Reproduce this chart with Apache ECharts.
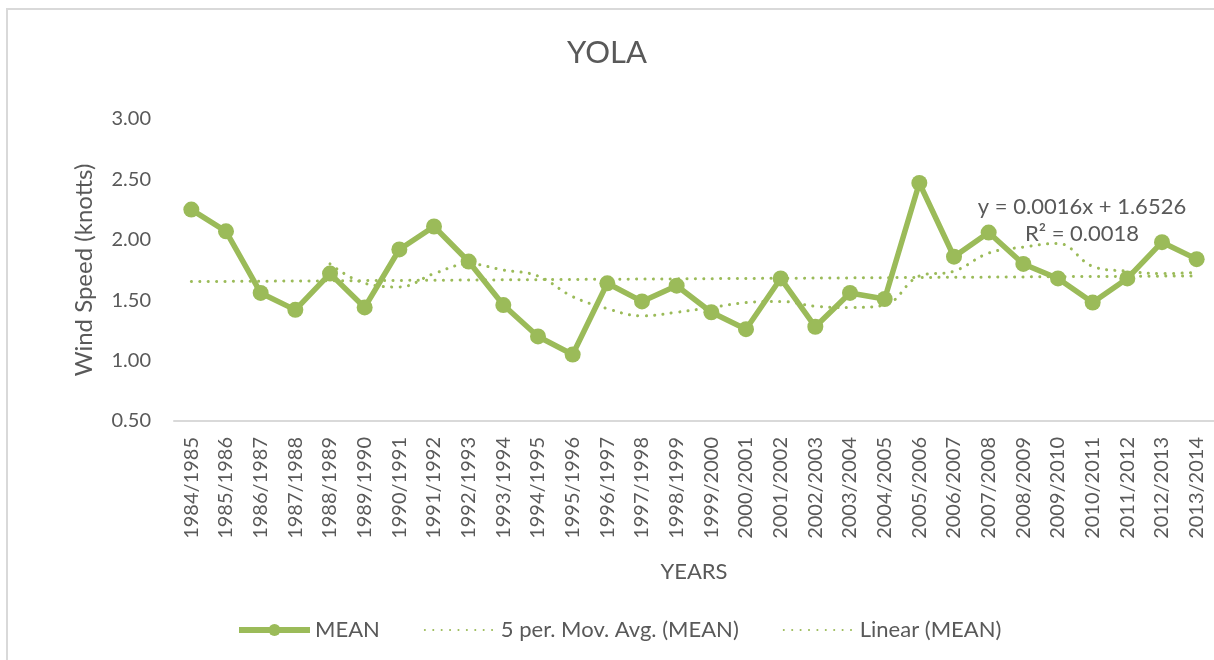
<!DOCTYPE html>
<html>
<head>
<meta charset="utf-8">
<script src="https://cdn.jsdelivr.net/npm/echarts@6/dist/echarts.min.js"></script>
<style>
html,body{margin:0;padding:0;background:#fff;}
#chart{width:1214px;height:660px;}
</style>
</head>
<body>
<div id="chart"></div>
<script>
var categories = ['1984/1985','1985/1986','1986/1987','1987/1988','1988/1989','1989/1990','1990/1991','1991/1992','1992/1993','1993/1994','1994/1995','1995/1996','1996/1997','1997/1998','1998/1999','1999/2000','2000/2001','2001/2002','2002/2003','2003/2004','2004/2005','2005/2006','2006/2007','2007/2008','2008/2009','2009/2010','2010/2011','2011/2012','2012/2013','2013/2014'];
var meanValues = [2.25,2.07,1.56,1.42,1.72,1.44,1.92,2.11,1.82,1.46,1.20,1.05,1.64,1.49,1.62,1.40,1.26,1.68,1.28,1.56,1.51,2.47,1.86,2.06,1.80,1.68,1.48,1.68,1.98,1.84];
var movAvgValues = [null,null,null,null,1.80,1.64,1.61,1.72,1.80,1.75,1.70,1.53,1.43,1.37,1.40,1.44,1.48,1.49,1.45,1.44,1.46,1.70,1.74,1.89,1.94,1.97,1.78,1.74,1.72,1.73];
var trendStart = 1.654;
var trendEnd = 1.701;
var yTicks = [0.5, 3.0, 0.5]; // min, max, interval
var trendText = ['y = 0.0016x + 1.6526', 'R² = 0.0018'];

var green = '#9bbb59';
var txt = '#595959';
var FONT = 'Lato';

var chart = echarts.init(document.getElementById('chart'));
chart.setOption({
  backgroundColor: '#fff',
  animation: false,
  textStyle: {fontFamily: FONT},
  title: {
    text: 'YOLA', left: 'center', top: 32,
    textStyle: {fontFamily: FONT, fontSize: 31, fontWeight: 'normal', color: txt}
  },
  grid: {left: 174, top: 119, width: 1044, height: 302},
  legend: {
    left: 231, top: 614, itemWidth: 71, itemHeight: 15, itemGap: 44,
    textStyle: {fontFamily: FONT, fontSize: 22, color: txt},
    data: [
      {name: 'MEAN', lineStyle: {width: 6}},
      {name: '5 per. Mov. Avg. (MEAN)', itemStyle: {opacity: 0}},
      {name: 'Linear (MEAN)', itemStyle: {opacity: 0}}
    ]
  },
  xAxis: {
    type: 'category', data: categories, boundaryGap: true,
    name: 'YEARS', nameLocation: 'middle', nameGap: 140,
    nameTextStyle: {fontFamily: FONT, fontSize: 22, color: txt},
    axisLine: {show: true, lineStyle: {color: '#d9d9d9', width: 2}},
    axisTick: {show: false},
    axisLabel: {rotate: 90, margin: 16, fontFamily: FONT, fontSize: 20, color: txt, interval: 0},
    splitLine: {show: false}
  },
  yAxis: {
    type: 'value', min: yTicks[0], max: yTicks[1], interval: yTicks[2],
    name: 'Wind Speed (knotts)', nameLocation: 'middle', nameGap: 78, nameRotate: 90,
    nameTextStyle: {fontFamily: FONT, fontSize: 24, color: txt},
    axisLine: {show: false}, axisTick: {show: false},
    axisLabel: {margin: 23, fontFamily: FONT, fontSize: 20, color: txt, formatter: function(v){return v.toFixed(2);}},
    splitLine: {show: false}
  },
  series: [
    {
      name: 'Linear (MEAN)', type: 'line', data: [[0, trendStart], [categories.length - 1, trendEnd]],
      symbol: 'none', z: 1,
      lineStyle: {color: green, width: 3, type: [0.1, 8.3], cap: 'round'},
      itemStyle: {color: green}
    },
    {
      name: '5 per. Mov. Avg. (MEAN)', type: 'line', data: movAvgValues, smooth: 0.4,
      symbol: 'none', z: 2,
      lineStyle: {color: green, width: 3, type: [0.1, 8.3], cap: 'round'},
      itemStyle: {color: green}
    },
    {
      name: 'MEAN', type: 'line', data: meanValues, z: 3,
      symbol: 'circle', symbolSize: 16,
      lineStyle: {color: green, width: 5.5},
      itemStyle: {color: green}
    }
  ],
  graphic: [
    {type: 'rect', shape: {x: 7, y: 9, width: 1230, height: 700}, style: {fill: 'none', stroke: '#d9d9d9', lineWidth: 2}, silent: true},
    {type: 'text', style: {text: trendText[0], x: 1082, y: 207, align: 'center', verticalAlign: 'middle', fontFamily: FONT, fontSize: 22, fill: txt}, z: 10},
    {type: 'text', style: {text: trendText[1], x: 1082, y: 234, align: 'center', verticalAlign: 'middle', fontFamily: FONT, fontSize: 22, fill: txt}, z: 10}
  ]
});
</script>
</body>
</html>
